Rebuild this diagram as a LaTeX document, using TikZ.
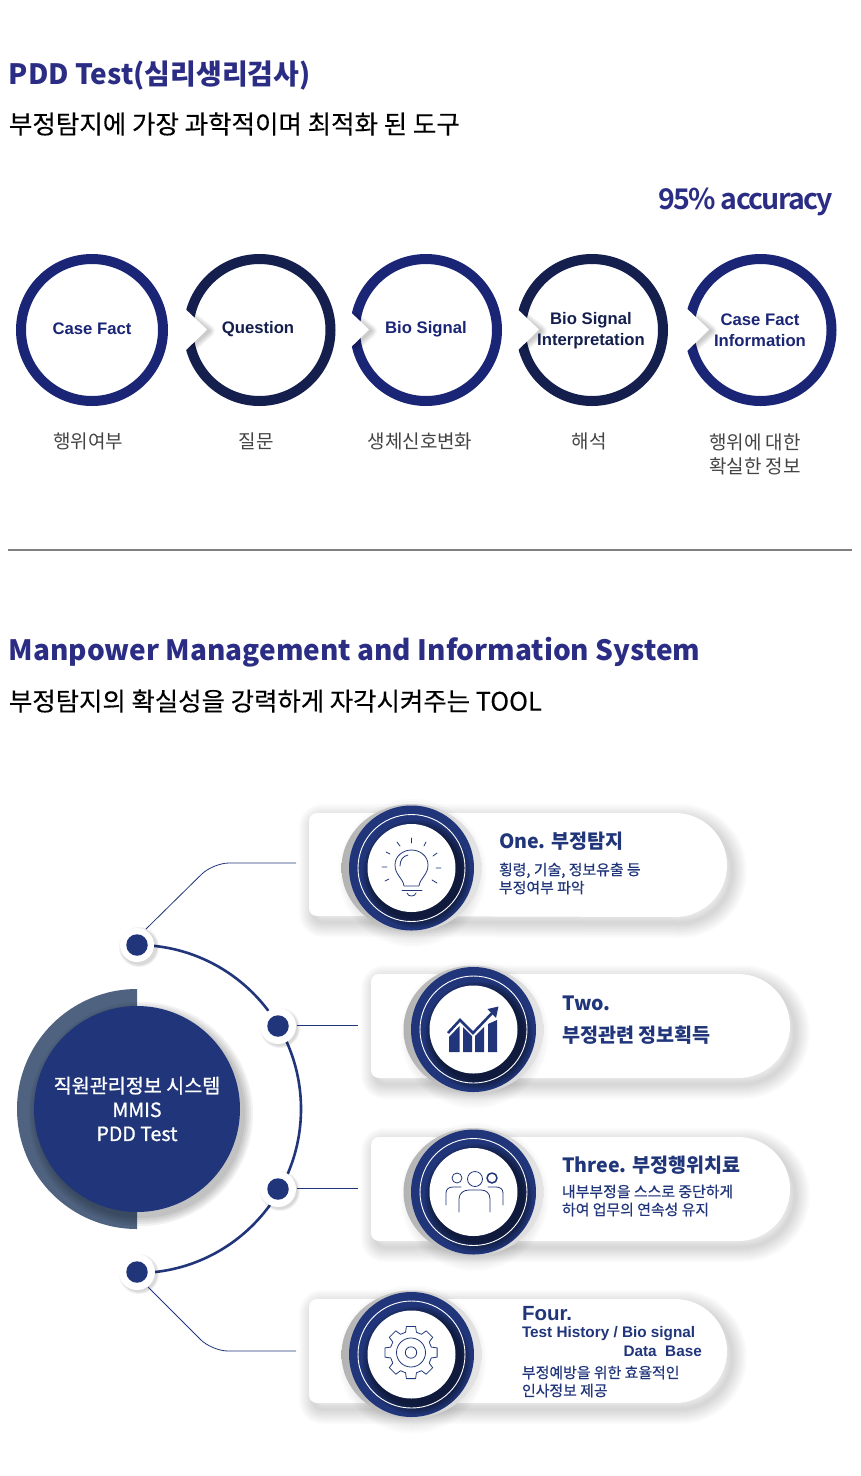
\documentclass[tikz,border=0pt]{standalone}
\usepackage{fontspec}
\setmainfont{Noto Sans CJK KR}
\newfontfamily\lat{Liberation Sans}
\newfontfamily\med[FakeBold=0.5]{Noto Sans CJK KR}
\newfontfamily\hubf[FakeBold=1]{Noto Sans CJK KR}
\newfontfamily\semi[FakeBold=0.25]{Noto Sans CJK KR}
\newfontfamily\tight[LetterSpace=-6]{Noto Sans CJK KR Bold}
\definecolor{navy}{HTML}{21367A}
\definecolor{titleblue}{HTML}{2B2D85}
\definecolor{ringa}{HTML}{1A2575}
\definecolor{ringb}{HTML}{141F4D}
\definecolor{labelgrey}{HTML}{444444}
\definecolor{backhalf}{HTML}{4F6280}
\newcommand{\fs}[1]{\fontsize{#1}{#1}\selectfont}
\tikzset{
  x=1pt,y=-1pt,
  txt/.style={inner sep=0pt,outer sep=0pt,anchor=west},
  ctxt/.style={inner sep=0pt,outer sep=0pt,align=center},
  ringnode/.style={circle,draw=#1,line width=10pt,minimum size=142pt,inner sep=0pt,fill=white},
  circlabel/.style={ctxt,font=\lat\bfseries\fontsize{16.7}{21}\selectfont,text=#1},
  korlabel/.style={ctxt,text=labelgrey,font=\fontsize{19}{24}\selectfont},
  thinline/.style={draw=navy,line width=0.8pt,rounded corners=16pt},
  cardtitle/.style={txt,text=navy,font=\bfseries\fontsize{19.6}{26}\selectfont},
  cardsub/.style={txt,text=navy,align=left,font=\med\fontsize{14.9}{18}\selectfont},
  icon/.style={draw=navy,line width=0.8pt,line cap=round,line join=round},
  dotnode/.style={circle,fill=navy,minimum size=21.5pt,inner sep=0pt}
}
\newcommand{\cardpath}[4]{({#1+8},#2) -- ({#3-52},#2) arc[start angle=-90,end angle=90,radius=52] -- ({#1+8},#4) arc[start angle=90,end angle=180,radius=8] -- (#1,{#2+8}) arc[start angle=180,end angle=270,radius=8] -- cycle}
\newcommand{\card}[4]{%
  \begin{scope}[shift={(5,6)}]
    \foreach \w in {30,27,...,3}{\draw[line width=\w pt,black,opacity=.017,line join=round] \cardpath{#1}{#2}{#3}{#4};}
  \end{scope}
  \fill[white] \cardpath{#1}{#2}{#3}{#4};
}
\newcommand{\badge}[3]{%
  \foreach \r in {74,72,...,62}{\fill[black,opacity=.014] ({#2+1},{#3+5}) circle[radius=\r];}
  \shade[left color=black!30,right color=black!10] (#2,#3) ellipse[x radius=70,y radius=64];
  \node[circle,fill=navy,minimum size=125pt,inner sep=0pt] (#1) at (#2,#3) {};
  \begin{scope}
    \clip (#2,#3) circle[radius=62.5];
    \foreach \r in {54,52.5,...,44}{\fill[black,opacity=.09] ({#2+5},{#3+6}) circle[radius=\r];}
  \end{scope}
  \draw[white,line width=0.9pt] (#2,#3) circle[radius=53.5];
  \fill[white] (#2,#3) circle[radius=44];
}
\newcommand{\chev}[1]{%
  \begin{scope}
  \clip (#1,295) rectangle ({#1+45},365);
  \foreach \w in {12,10,...,2}{\draw[black,opacity=.035,line width=\w pt,line join=round] ({#1+12},317) -- ({#1+30},331) -- ({#1+12},347);}
  \end{scope}
  \fill[white] (#1,303) -- ({#1+28},329.5) -- (#1,357) -- cycle;
}
\newcommand{\halo}[3]{%
  \foreach \r in {20,19,18}{\fill[black,opacity=.05] ({#1+2},{#2+2}) circle[radius=\r];}
  \fill[white] (#1,#2) circle[radius=#3];
}
\begin{document}
\begin{tikzpicture}
\useasboundingbox (0,0) rectangle (860,1476);
\fill[white] (0,0) rectangle (860,1476);

% --- heading 1
\node[txt,text=titleblue,font=\bfseries\fs{28}] (t1) at (9,75.5) {PDD Test(심리생리검사)};
\node[txt,text=black,font=\semi\fs{25.5}] (t2) at (9,124) {부정탐지에 가장 과학적이며 최적화 된 도구};
\node[inner sep=0pt,outer sep=0pt,anchor=east,text=titleblue,font=\tight\fs{28.5}] (acc) at (833,202) {95\% accuracy};

% --- process circles
\node[ringnode=ringa] (c1) at (92,330) {};
\node[ringnode=ringb] (c2) at (259.5,330) {};
\node[ringnode=ringa] (c3) at (426,330) {};
\node[ringnode=ringb] (c4) at (592,330) {};
\node[ringnode=ringa] (c5) at (760.5,330) {};
\chev{179}\chev{341}\chev{511}\chev{681}
\node[circlabel=ringa] (l1) at (92,329) {Case Fact};
\node[circlabel=ringb] (l2) at (258,329) {Question};
\node[circlabel=ringa] (l3) at (426,329) {Bio Signal};
\node[circlabel=ringb] (l4) at (591,330.5) {Bio Signal\\Interpretation};
\node[circlabel=ringa] (l5) at (760,330.5) {Case Fact\\Information};
\node[korlabel] (k1) at (88,441) {행위여부};
\node[korlabel] (k2) at (256,441) {질문};
\node[korlabel] (k3) at (420,441) {생체신호변화};
\node[korlabel] (k4) at (589,441) {해석};
\node[korlabel] (k5) at (755,454) {행위에 대한\\확실한 정보};

\draw[black!50,line width=1.4pt] (8,550) -- (852,550);

% --- heading 2
\node[txt,text=titleblue,font=\bfseries\fs{28}] (t3) at (9,652.5) {Manpower Management and Information System};
\node[txt,text=black,font=\semi\fs{25.4}] (t4) at (9,701) {부정탐지의 확실성을 강력하게 자각시켜주는 TOOL};

% --- cards
\card{309}{813}{727}{916}
\card{371}{974}{790}{1078}
\card{371}{1137}{790}{1241}
\card{309}{1299}{727}{1403}
\badge{b1}{411.5}{868}
\badge{b2}{473.5}{1029.5}
\badge{b3}{473.5}{1192}
\badge{b4}{411.5}{1354.5}

% --- card texts
\node[cardtitle] (o1) at (499,841.5) {One. 부정탐지};
\node[cardsub] (o2) at (499,878.5) {횡령, 기술, 정보유출 등\\부정여부 파악};
\node[cardtitle] (w1) at (562,1003.5) {Two.};
\node[cardtitle] (w2) at (562,1035.5) {부정관련 정보획득};
\node[cardtitle] (h1) at (562,1165.5) {Three. 부정행위치료};
\node[cardsub] (h2) at (562,1200.5) {내부부정을 스스로 중단하게\\하여 업무의 연속성 유지};
\node[txt,text=navy,font=\lat\bfseries\fs{20.5}] (f1) at (522,1314) {Four.};
\node[txt,text=navy,font=\lat\bfseries\fs{15.3}] (f2) at (522,1334) {Test History / Bio signal};
\node[inner sep=0pt,anchor=east,text=navy,font=\lat\bfseries\fs{15.3}] (f3) at (702,1351.5) {Data\ \ Base};
\node[cardsub] (f4) at (522,1381.5) {부정예방을 위한 효율적인\\인사정보 제공};

% --- icons
% bulb
\draw[icon] (404,886) .. controls (403,878) and (395,875) .. (395,865) .. controls (395,856) and (403,850) .. (411.5,850) .. controls (420,850) and (428,856) .. (428,865) .. controls (428,875) and (420,878) .. (419,886) -- cycle;
\draw[icon] (400,866) .. controls (400,860) and (403,856) .. (408,855);
\draw[icon] (402,890) -- (422,890);
\draw[icon] (407,893) .. controls (408,897) and (415,897) .. (416,893);
\draw[icon] (411.5,838) -- (411.5,843) (397,842) -- (400,846) (426,842) -- (424,846) (386,852) -- (390,854) (437,853) -- (433,856) (382,867) -- (387,867) (436,868) -- (441,868) (385,881) -- (389,879) (432,880) -- (437,883);
% chart
\fill[navy] (449,1052) -- (449,1037) -- (459.5,1026) -- (459.5,1052) -- cycle;
\fill[navy] (463,1052) -- (463,1027) -- (472,1036) -- (472,1052) -- cycle;
\fill[navy] (475,1052) -- (475,1036) -- (484,1027) -- (484,1052) -- cycle;
\fill[navy] (488,1052) -- (488,1024) -- (497,1020) -- (497,1052) -- cycle;
\draw[navy,line width=2.6pt,line join=miter] (448,1033) -- (460,1020) -- (473,1033) -- (494,1011);
\fill[navy] (498.5,1006.5) -- (496,1018) -- (487.5,1009) -- cycle;
% people
\draw[icon] (475,1179) circle[radius=7.5];
\draw[icon] (457,1178) circle[radius=5];
\draw[icon,line width=1.5pt] (492,1178) circle[radius=5];
\draw[icon] (459,1212) -- (459,1199) .. controls (459,1193) and (464,1190) .. (469,1190) -- (481,1190) .. controls (486,1190) and (490,1193) .. (490,1199) -- (490,1212);
\draw[icon] (446,1205) -- (446,1193) .. controls (446,1189) and (449,1187) .. (453,1187) -- (461,1187);
\draw[icon] (503,1205) -- (503,1193) .. controls (503,1189) and (500,1187) .. (496,1187) -- (488,1187);
% gear
\begin{scope}[shift={(411,1352.5)}]
\draw[icon] (-15:21) \foreach \a in {0,45,...,315}{ -- ({\a-15}:21) -- ({\a-10}:26.5) -- ({\a+10}:26.5) -- ({\a+15}:21)} -- cycle;
\draw[icon] (0,0) circle[radius=14.5];
\draw[icon] (0,0) circle[radius=5.7];
\end{scope}

% --- central hub
\begin{scope}
  \clip (0,980) rectangle (137,1240);
  \fill[backhalf] (137,1109) circle[radius=120];
\end{scope}
\foreach \r in {112,110,...,103}{\fill[black,opacity=.05] (141,1114) circle[radius=\r];}
\node[circle,fill=navy,minimum size=206pt,inner sep=0pt] (hub) at (137,1109) {};
\node[ctxt,text=white,font=\hubf\fontsize{19.6}{24}\selectfont] (hubt) at (137,1109) {직원관리정보 시스템\\MMIS\\PDD Test};

% --- arc and dots
\coordinate (arcstart) at (137,945);
\draw[navy,line width=2.6pt] (arcstart) arc[start angle=-90,end angle=90,radius=164];
\halo{278}{1026}{18}
\halo{278}{1189}{18}
\halo{137}{945}{17}
\halo{137}{1272}{18}
\node[dotnode] (d1) at (137,945) {};
\node[dotnode] (d2) at (278,1026) {};
\node[dotnode] (d3) at (278,1189) {};
\node[dotnode] (d4) at (137,1272) {};

% --- connectors
\coordinate (p1a) at (146,929);
\coordinate (p1b) at (213,863);
\coordinate (p1) at (296,863);
\coordinate (p2) at (358,1025);
\coordinate (p3) at (358,1188);
\coordinate (p4a) at (148,1287);
\coordinate (p4b) at (212,1351);
\coordinate (p4) at (296,1351);
\draw[thinline] (p1a) -- (p1b) -- (p1);
\draw[thinline] (d2.east) ++(8,-1) -- (p2);
\draw[thinline] (d3.east) ++(8,-1) -- (p3);
\draw[thinline] (p4a) -- (p4b) -- (p4);
\end{tikzpicture}
\end{document}
